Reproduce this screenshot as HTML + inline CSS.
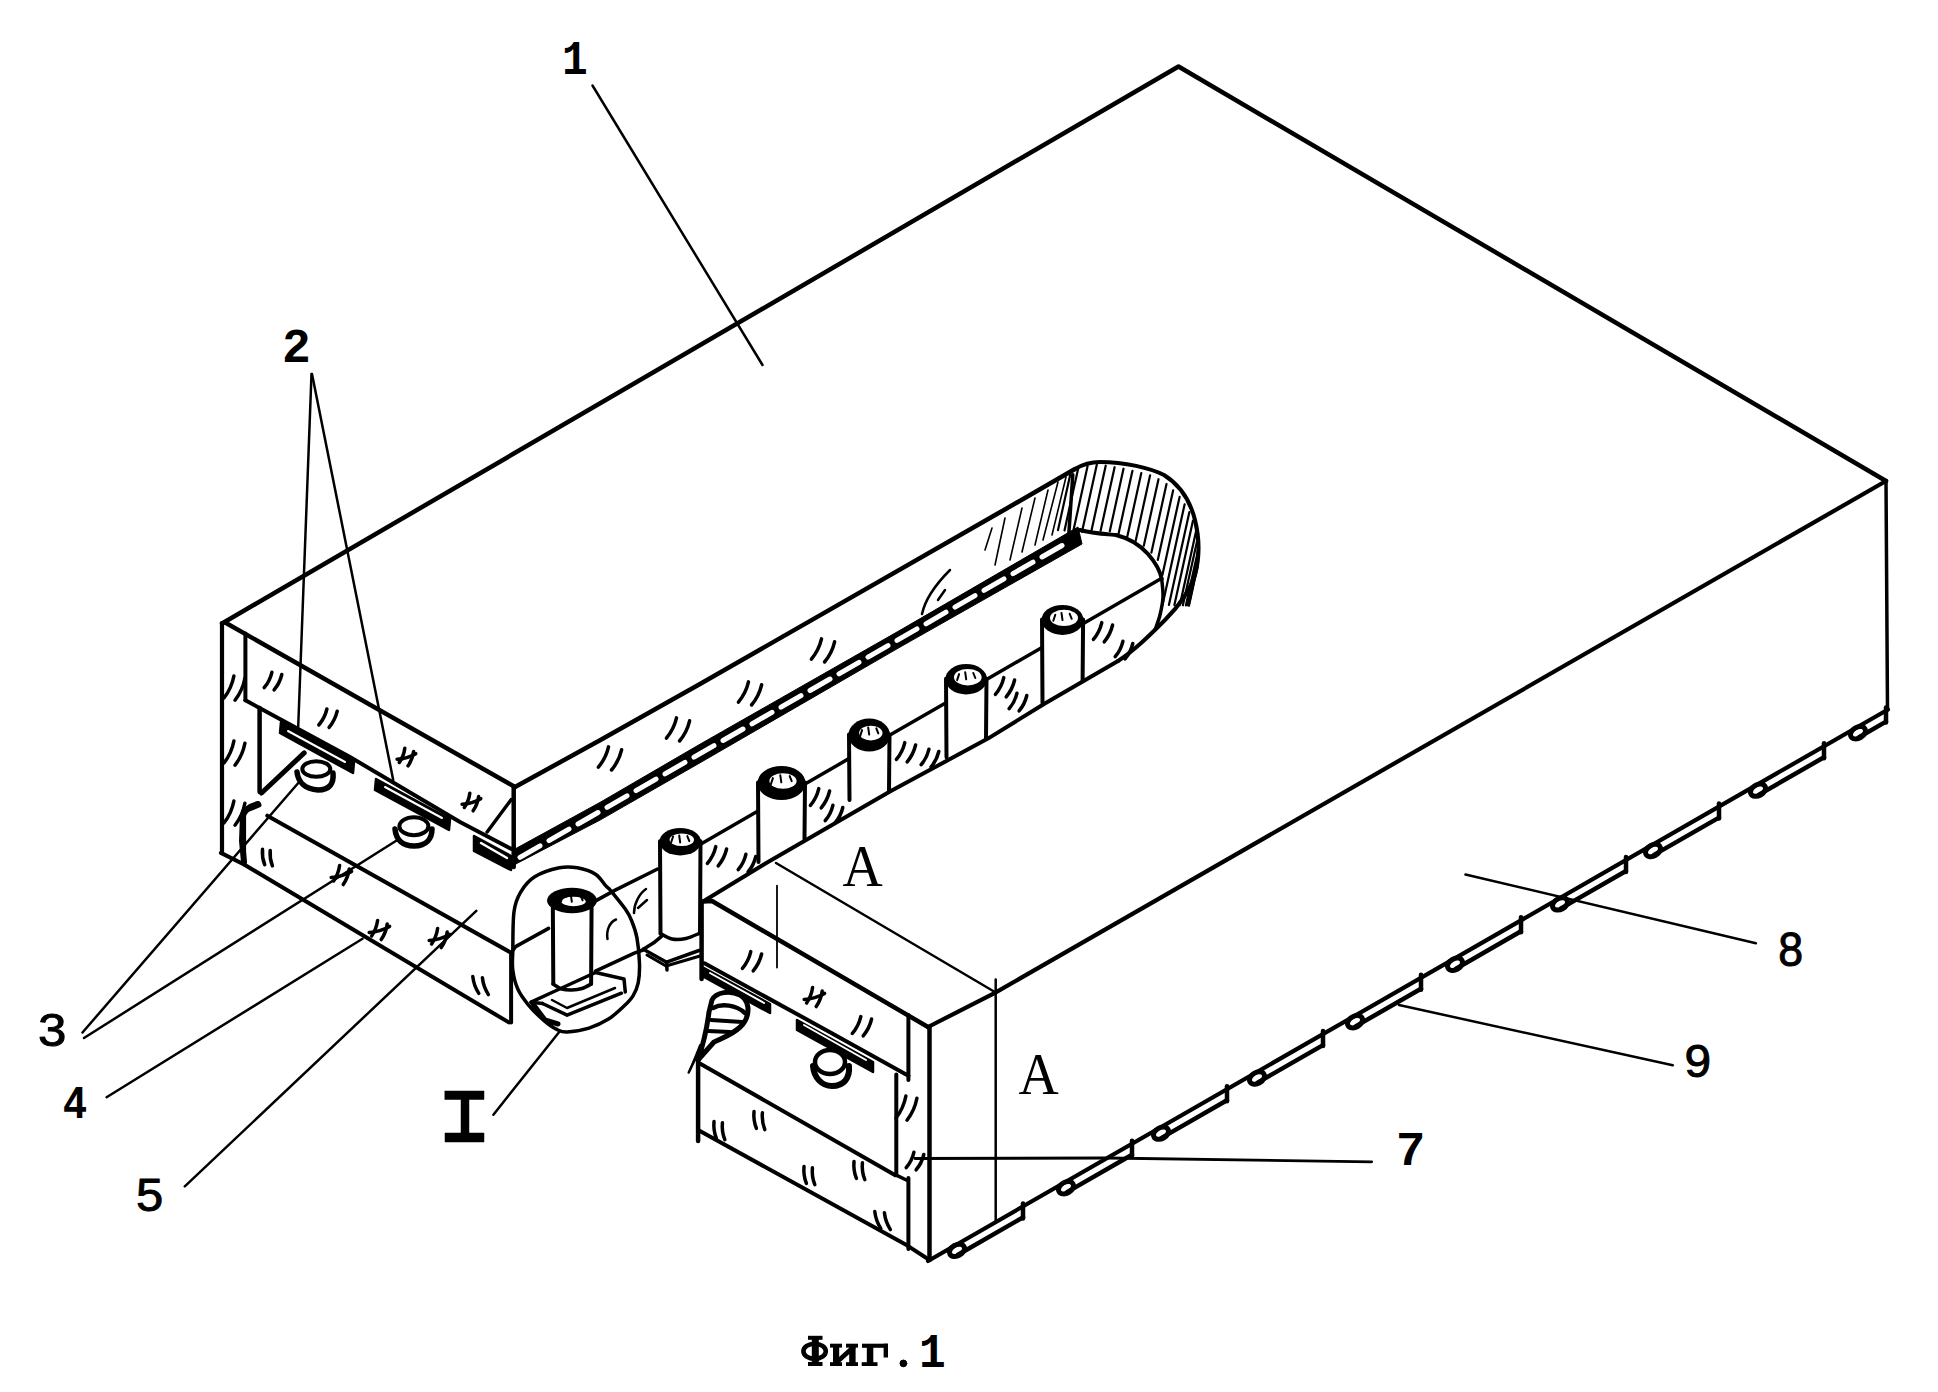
<!DOCTYPE html>
<html><head><meta charset="utf-8"><style>
html,body{margin:0;padding:0;background:#fff;}
svg{display:block;}
</style></head><body>
<svg width="1938" height="1392" viewBox="0 0 1938 1392">
<rect width="1938" height="1392" fill="#fff"/>
<g fill="none" stroke="#000" stroke-linecap="round" stroke-linejoin="round">
<text x="0" y="0" transform="matrix(0.4286 0 0 0.4848 562.00 74.00)" font-family="&quot;Liberation Mono&quot;, monospace" font-weight="bold" font-size="100" fill="#000" stroke="none">1</text>
<text x="0" y="0" transform="matrix(0.4792 0 0 0.4776 282.12 362.00)" font-family="&quot;Liberation Mono&quot;, monospace" font-weight="bold" font-size="100" fill="#000" stroke="none">2</text>
<text x="0" y="0" transform="matrix(0.5106 0 0 0.4577 37.96 1045.54)" font-family="&quot;Liberation Sans&quot;, sans-serif" font-weight="normal" font-size="100" fill="#000" stroke="#000" stroke-width="2">3</text>
<text x="0" y="0" transform="matrix(0.4074 0 0 0.4697 62.78 1118.00)" font-family="&quot;Liberation Mono&quot;, monospace" font-weight="bold" font-size="100" fill="#000" stroke="none">4</text>
<text x="0" y="0" transform="matrix(0.4894 0 0 0.4643 136.04 1210.54)" font-family="&quot;Liberation Sans&quot;, sans-serif" font-weight="normal" font-size="100" fill="#000" stroke="#000" stroke-width="2">5</text>
<text x="0" y="0" transform="matrix(0.4894 0 0 0.4559 1397.04 1165.46)" font-family="&quot;Liberation Sans&quot;, sans-serif" font-weight="bold" font-size="100" fill="#000" stroke="none">7</text>
<text x="0" y="0" transform="matrix(0.4468 0 0 0.4789 1778.21 965.52)" font-family="&quot;Liberation Sans&quot;, sans-serif" font-weight="normal" font-size="100" fill="#000" stroke="#000" stroke-width="2">8</text>
<text x="0" y="0" transform="matrix(0.4783 0 0 0.4648 1684.61 1076.54)" font-family="&quot;Liberation Sans&quot;, sans-serif" font-weight="normal" font-size="100" fill="#000" stroke="#000" stroke-width="2">9</text>
<text x="0" y="0" transform="matrix(0.5571 0 0 0.6000 842.44 885.60)" font-family="&quot;Liberation Serif&quot;, serif" font-weight="normal" font-size="100" fill="#000" stroke="none">A</text>
<text x="0" y="0" transform="matrix(0.5571 0 0 0.6000 1018.44 1093.60)" font-family="&quot;Liberation Serif&quot;, serif" font-weight="normal" font-size="100" fill="#000" stroke="none">A</text>
<rect x="811.8" y="1336" width="7.00" height="30.00" fill="#000" stroke="none"/>
<rect x="808" y="1335.8" width="14.50" height="4.00" fill="#000" stroke="none"/>
<rect x="808" y="1362" width="14.50" height="4.00" fill="#000" stroke="none"/>
<ellipse cx="814.6" cy="1351.3" rx="11.2" ry="7.6" stroke-width="4.6"/>
<rect x="833" y="1344" width="6.20" height="22.00" fill="#000" stroke="none"/>
<rect x="849.2" y="1344" width="6.40" height="22.00" fill="#000" stroke="none"/>
<path d="M834,1362.5 L838.8,1362.5 L855,1348 L850,1348 Z" stroke-width="1.5" fill="#000"/>
<rect x="830" y="1343.7" width="12.00" height="3.90" fill="#000" stroke="none"/>
<rect x="846" y="1343.7" width="12.00" height="3.90" fill="#000" stroke="none"/>
<rect x="830" y="1362.2" width="12.00" height="3.80" fill="#000" stroke="none"/>
<rect x="846" y="1362.2" width="12.00" height="3.80" fill="#000" stroke="none"/>
<rect x="866.8" y="1344" width="6.50" height="22.00" fill="#000" stroke="none"/>
<rect x="862" y="1343.7" width="26.00" height="4.10" fill="#000" stroke="none"/>
<rect x="883.6" y="1343.7" width="4.40" height="13.80" fill="#000" stroke="none"/>
<rect x="861.7" y="1362.2" width="15.80" height="3.80" fill="#000" stroke="none"/>
<ellipse cx="903.4" cy="1363.4" rx="3.4" ry="3.4" stroke-width="1" fill="#000"/>
<text x="0" y="0" transform="matrix(0.4449 0 0 0.4727 918.99 1367.00)" font-family="&quot;Liberation Mono&quot;, monospace" font-weight="bold" font-size="100" fill="#000" stroke="none">1</text>
<path d="M445,1091 H484 V1099.5 H469 V1133 H484 V1142 H445 V1133 H461 V1099.5 H445 Z" stroke-width="0.5" fill="#000"/>
<path d="M592.5,85.5 L762.5,365.0" stroke-width="2.5"/>
<path d="M311.5,374.0 L298.2,727.0" stroke-width="2.5"/>
<path d="M312.0,374.0 L393.2,780.0" stroke-width="2.5"/>
<path d="M82.5,1032.5 L300.0,781.0" stroke-width="2.5"/>
<path d="M84.0,1038.0 L397.4,840.0" stroke-width="2.5"/>
<path d="M106.6,1097.2 L362.5,938.8" stroke-width="2.5"/>
<path d="M184.8,1186.4 L476.3,910.9" stroke-width="2.5"/>
<path d="M493.4,1114.7 L560.0,1031.0" stroke-width="2.5"/>
<path d="M915.0,1158.5 L1107.0,1158.0 L1371.7,1161.8" stroke-width="2.8"/>
<path d="M1465.5,874.5 L1755.9,943.2" stroke-width="2.5"/>
<path d="M1399.0,1005.0 L1672.8,1065.3" stroke-width="2.5"/>
<path d="M222.0,623.5 L1178.5,66.5 L1886.0,481.0" stroke-width="4.5"/>
<path d="M1886.0,481.0 L1887.5,710.0" stroke-width="3.5"/>
<path d="M1886.0,481.0 L994.0,993.4 L928.0,1027.0" stroke-width="4.2"/>
<path d="M1888.0,709.5 L928.0,1261.0" stroke-width="4.2"/>
<path d="M929.5,1027.0 L929.5,1260.0" stroke-width="4.5"/>
<path d="M222.0,623.0 L222.0,853.0" stroke-width="4.2"/>
<path d="M226.0,623.0 L515.0,787.0" stroke-width="4.5"/>
<path d="M513.7,787.0 L513.7,867.0" stroke-width="4.5"/>
<path d="M245.4,633.5 L245.4,700.3" stroke-width="4"/>
<path d="M245.4,700.3 L350.0,757.0 L460.0,822.0 L511.5,849.0" stroke-width="4"/>
<path d="M487.1,832.0 L511.1,799.7" stroke-width="3.5"/>
<path d="M259.6,708.0 L259.6,792.0" stroke-width="4.5"/>
<path d="M261.5,793.0 L304.2,752.9" stroke-width="5"/>
<path d="M220.9,852.9 L244.1,864.5 L508.8,1022.4" stroke-width="4"/>
<path d="M244.1,811.0 L244.1,864.5" stroke-width="4"/>
<path d="M267.3,815.7 L511.1,952.7" stroke-width="4"/>
<path d="M511.1,952.7 L511.1,1022.4" stroke-width="4"/>
<path d="M258,804 C250,806 245,810 243,815 L242,841 L244,862" stroke-width="6"/>
<path d="M244.0,811.0 L259.0,805.0" stroke-width="5"/>
<path d="M515.0,787.0 L600.0,740.3 L700.0,684.0 L1000.0,512.3 L1075.0,469.0" stroke-width="4.5"/>
<path d="M1075,469 C1085,463 1092,462 1100,462 C1125,462 1150,468 1164,475 C1180,485 1190,500 1195,520 C1200,540 1199,560 1195,575 C1190,590 1180,605 1165,620 C1150,635 1135,650 1118,661" stroke-width="4"/>
<path d="M1118.0,661.0 L1044.0,704.0 L987.9,738.6 L890.4,791.2 L766.7,862.7 L703.0,901.5" stroke-width="4"/>
<path d="M515,849 L600,802.4 L700,744.2 L900,630.3 L1078,527 L1082,544 L900,647.1 L700,762.8 L600,820.1 L512,866 Z" stroke-width="1" fill="#000"/>
<path d="M520.0,857.3 L540.0,845.8 M549.0,840.6 L569.0,829.1 M578.0,824.0 L598.0,812.5 M607.0,807.3 L627.0,795.8 M636.0,790.6 L656.0,779.1 M665.0,773.9 L685.0,762.4 M694.0,757.2 L714.0,745.7 M723.0,740.5 L743.0,729.0 M752.0,723.9 L772.0,712.3 M781.0,707.2 L801.0,695.7 M810.0,690.5 L830.0,679.0 M839.0,673.8 L859.0,662.3 M868.0,657.1 L888.0,645.6 M897.0,640.4 L917.0,628.9 M926.0,623.8 L946.0,612.2 M955.0,607.1 L975.0,595.6 M984.0,590.4 L1004.0,578.9 M1013.0,573.7 L1033.0,562.2 M1042.0,557.0 L1062.0,545.5 " stroke="#fff" stroke-width="5" stroke-linecap="round"/>
<path d="M1080,530 C1090,533 1105,534 1116,535 C1128,538 1140,545 1148,554 C1155,562 1160,570 1161.7,579" stroke-width="4"/>
<path d="M1161.7,578.3 L1083.4,623.6" stroke-width="3.5"/>
<path d="M1042.0,647.5 L986.5,679.4" stroke-width="3.5"/>
<path d="M946.0,702.8 L889.5,735.3" stroke-width="3.5"/>
<path d="M849.0,758.6 L805.0,784.0" stroke-width="3.5"/>
<path d="M758.0,811.1 L700.5,844.2" stroke-width="3.5"/>
<path d="M657.6,869.0 L614.7,890.4 L596.5,900.4" stroke-width="3.5"/>
<path d="M548.6,928.4 L515.6,946.6 L511.1,952.7" stroke-width="3.5"/>
<path d="M1072.8,474.8 L1068.9,532.9" stroke-width="3.5"/>
<path d="M1042.0,619.4 L1042.5,703.0" stroke-width="4.0"/>
<path d="M1083.1,619.4 L1082.6,681.3" stroke-width="4.0"/>
<ellipse cx="1062.5" cy="619.9" rx="21.0" ry="15.0" fill="#000" stroke="none"/>
<ellipse cx="1064.0" cy="617.9" rx="14.0" ry="8.1" fill="#fff" stroke="none"/>
<path d="M1053.3,620.8 l2,-6 M1061.5,613.1 l1,7 M1069.7,613.8 l2,5" stroke-width="2"/>
<path d="M946.0,678.7 L946.5,757.2" stroke-width="4.0"/>
<path d="M986.5,678.7 L986.0,738.6" stroke-width="4.0"/>
<ellipse cx="966.2" cy="679.2" rx="20.8" ry="15.3" fill="#000" stroke="none"/>
<ellipse cx="967.8" cy="677.2" rx="13.8" ry="8.3" fill="#fff" stroke="none"/>
<path d="M957.1,680.1 l2,-6 M965.2,672.3 l1,7 M973.3,673.0 l2,5" stroke-width="2"/>
<path d="M849.0,734.6 L849.5,800.0" stroke-width="4.0"/>
<path d="M889.5,734.6 L889.0,791.2" stroke-width="4.0"/>
<ellipse cx="869.2" cy="735.1" rx="20.8" ry="16.5" fill="#000" stroke="none"/>
<ellipse cx="870.8" cy="733.1" rx="11.7" ry="7.4" fill="#fff" stroke="none"/>
<path d="M860.1,736.1 l2,-6 M868.2,727.6 l1,7 M876.3,728.4 l2,5" stroke-width="2"/>
<path d="M758.0,782.5 L758.5,862.0" stroke-width="4.0"/>
<path d="M805.0,782.5 L804.5,839.0" stroke-width="4.0"/>
<ellipse cx="781.5" cy="783.0" rx="24.0" ry="17.0" fill="#000" stroke="none"/>
<ellipse cx="783.0" cy="781.0" rx="13.6" ry="7.7" fill="#fff" stroke="none"/>
<path d="M770.9,784.1 l2,-6 M780.3,775.3 l1,7 M789.7,776.1 l2,5" stroke-width="2"/>
<path d="M660.0,841.2 L660.5,933.7" stroke-width="4.0"/>
<path d="M700.5,841.2 L700.0,933.0" stroke-width="4.0"/>
<ellipse cx="680.2" cy="841.7" rx="20.8" ry="13.7" fill="#000" stroke="none"/>
<ellipse cx="681.8" cy="839.7" rx="12.2" ry="6.3" fill="#fff" stroke="none"/>
<path d="M671.1,842.5 l2,-6 M679.2,835.5 l1,7 M687.3,836.1 l2,5" stroke-width="2"/>
<path d="M552.8,900.0 L553.3,984.0" stroke-width="4.0"/>
<path d="M591.6,900.0 L591.1,984.0" stroke-width="4.0"/>
<ellipse cx="572.0" cy="900.5" rx="25.0" ry="12.7" fill="#000" stroke="none"/>
<ellipse cx="573.5" cy="901.5" rx="12.2" ry="4.7" fill="#fff" stroke="none"/>
<path d="M561.0,901.2 l2,-6 M570.8,894.7 l1,7 M580.6,895.3 l2,5" stroke-width="2"/>
<path d="M958.0,1254.8 L1023.0,1217.4" stroke-width="4.5"/>
<path d="M1023.0,1203.4 L1023.0,1218.4" stroke-width="4.5"/>
<ellipse cx="957" cy="1250.3401041666666" rx="8" ry="5.5" stroke-width="5" transform="rotate(-29 957 1250.3401041666666)"/>
<path d="M1067.0,1192.1 L1132.0,1154.8" stroke-width="4.5"/>
<path d="M1132.0,1140.8 L1132.0,1155.8" stroke-width="4.5"/>
<ellipse cx="1066" cy="1187.721875" rx="8" ry="5.5" stroke-width="5" transform="rotate(-29 1066 1187.721875)"/>
<path d="M1162.0,1137.6 L1227.0,1100.2" stroke-width="4.5"/>
<path d="M1227.0,1086.2 L1227.0,1101.2" stroke-width="4.5"/>
<ellipse cx="1161" cy="1133.1463541666667" rx="8" ry="5.5" stroke-width="5" transform="rotate(-29 1161 1133.1463541666667)"/>
<path d="M1258.0,1082.4 L1323.0,1045.1" stroke-width="4.5"/>
<path d="M1323.0,1031.1 L1323.0,1046.1" stroke-width="4.5"/>
<ellipse cx="1257" cy="1077.9963541666666" rx="8" ry="5.5" stroke-width="5" transform="rotate(-29 1257 1077.9963541666666)"/>
<path d="M1356.0,1026.1 L1421.0,988.8" stroke-width="4.5"/>
<path d="M1421.0,974.8 L1421.0,989.8" stroke-width="4.5"/>
<ellipse cx="1355" cy="1021.6973958333333" rx="8" ry="5.5" stroke-width="5" transform="rotate(-29 1355 1021.6973958333333)"/>
<path d="M1456.0,968.7 L1521.0,931.3" stroke-width="4.5"/>
<path d="M1521.0,917.3 L1521.0,932.3" stroke-width="4.5"/>
<ellipse cx="1455" cy="964.2494791666667" rx="8" ry="5.5" stroke-width="5" transform="rotate(-29 1455 964.2494791666667)"/>
<path d="M1561.0,908.4 L1626.0,871.0" stroke-width="4.5"/>
<path d="M1626.0,857.0 L1626.0,872.0" stroke-width="4.5"/>
<ellipse cx="1560" cy="903.9291666666667" rx="8" ry="5.5" stroke-width="5" transform="rotate(-29 1560 903.9291666666667)"/>
<path d="M1654.0,854.9 L1719.0,817.6" stroke-width="4.5"/>
<path d="M1719.0,803.6 L1719.0,818.6" stroke-width="4.5"/>
<ellipse cx="1653" cy="850.5026041666666" rx="8" ry="5.5" stroke-width="5" transform="rotate(-29 1653 850.5026041666666)"/>
<path d="M1759.0,794.6 L1824.0,757.3" stroke-width="4.5"/>
<path d="M1824.0,743.3 L1824.0,758.3" stroke-width="4.5"/>
<ellipse cx="1758" cy="790.1822916666666" rx="8" ry="5.5" stroke-width="5" transform="rotate(-29 1758 790.1822916666666)"/>
<path d="M1859.0,737.2 L1886.0,721.6" stroke-width="4.5"/>
<path d="M1886.0,707.6 L1886.0,722.6" stroke-width="4.5"/>
<ellipse cx="1858" cy="732.734375" rx="8" ry="5.5" stroke-width="5" transform="rotate(-29 1858 732.734375)"/>
<path d="M512.8,950.5 C513.0,940.8 512.7,921.4 514.0,911.7 C515.3,902.0 517.0,898.1 520.5,892.3 C524.0,886.5 528.2,880.9 534.7,876.8 C541.2,872.7 552.2,869.3 559.3,867.8 C566.4,866.3 571.4,866.7 577.4,867.8 C583.4,868.9 590.8,871.2 595.5,874.2 C600.2,877.2 603.3,883.1 605.9,885.9 C608.5,888.7 607.8,887.1 611.0,891.0 C614.2,894.9 621.8,904.1 625.3,909.1 C628.8,914.1 629.8,916.0 631.7,920.8 C633.6,925.5 635.6,930.5 636.9,937.6 C638.2,944.7 639.3,956.0 639.5,963.5 C639.7,971.0 639.3,977.4 638.2,982.8 C637.1,988.2 635.4,991.9 633.0,995.8 C630.6,999.7 628.1,1002.2 624.0,1006.1 C619.9,1010.0 614.3,1015.4 608.5,1019.1 C602.7,1022.8 595.9,1025.9 589.0,1028.1 C582.1,1030.2 572.5,1031.8 567.1,1032.0 C561.7,1032.2 560.6,1031.3 556.7,1029.4 C552.8,1027.5 548.5,1024.5 543.8,1020.4 C539.1,1016.3 532.6,1010.0 528.3,1004.8 C524.0,999.6 520.5,995.1 517.9,989.3 C515.3,983.5 513.6,976.4 512.8,969.9 C511.9,963.4 512.6,960.2 512.8,950.5 Z" stroke-width="3.5"/>
<path d="M553.0,984.0 C554.5,984.8 558.8,988.0 562.0,989.0 C565.2,990.0 568.7,990.1 572.0,990.0 C575.3,989.9 578.8,989.5 582.0,988.5 C585.2,987.5 589.7,984.8 591.2,984.0" stroke-width="3.5"/>
<path d="M531.0,1002.2 L553.0,992.0 L595.5,972.5 L624.0,979.0 L625.3,992.0" stroke-width="3.5"/>
<path d="M542.5,1003.5 L567.1,1015.2 L621.4,993.2" stroke-width="3.5"/>
<path d="M531.0,1002.2 L542.5,1003.5" stroke-width="3.5"/>
<path d="M552.0,1000.0 L567.0,1008.0 L615.0,988.0" stroke-width="2.5"/>
<path d="M533.0,1004.0 L545.0,1020.0 L558.0,1024.0" stroke-width="5"/>
<path d="M595.5,971.2 L634.3,953.1 L643.0,950.0" stroke-width="3.5"/>
<path d="M643.4,949.2 L666.6,962.2 L699.0,950.5" stroke-width="3.5"/>
<path d="M643.4,949.2 L653.7,942.8 L661.5,936.3" stroke-width="3.5"/>
<path d="M647.0,955.0 L666.0,966.0 L700.0,956.0" stroke-width="3"/>
<path d="M666.6,962.2 L667.0,970.0" stroke-width="3.5"/>
<path d="M660.5,933.5 C662.4,934.4 667.8,938.2 672.0,939.0 C676.2,939.8 681.3,939.5 686.0,938.5 C690.7,937.5 697.9,933.9 700.3,933.0" stroke-width="3.5"/>
<path d="M607.5,939 C606,930 610,922 616,919.5" stroke-width="2.5"/>
<path d="M634,913 C634,903 640,893 646,889 M638,908 L647,900" stroke-width="2.5"/>
<path d="M703.0,901.5 L712.0,901.0 L928.0,1027.0" stroke-width="4.5"/>
<path d="M701.6,901.5 L701.6,979.0" stroke-width="4.5"/>
<path d="M704.5,963.3 L830.0,1032.2 L908.4,1075.7" stroke-width="4"/>
<path d="M908.4,1015.0 L908.4,1080.0" stroke-width="4"/>
<path d="M908.4,1178.0 L908.4,1249.0" stroke-width="4"/>
<path d="M896.3,1074.6 L896.3,1175.2" stroke-width="4"/>
<path d="M896.3,1175.2 L908.4,1181.0" stroke-width="3.5"/>
<path d="M698.1,1062.5 L895.3,1175.2" stroke-width="4"/>
<path d="M698.1,1130.0 L907.4,1245.6 L929.5,1260.0" stroke-width="4"/>
<path d="M698.1,1059.5 L698.1,1141.0" stroke-width="4.5"/>
<path d="M688.7,1072.5 L705.9,1036.5" stroke-width="2.5"/>
<path d="M704,968 L770,1004 L770,1013 L704,977 Z" stroke-width="2.5" fill="#000"/>
<path d="M710,973 L764,1003" stroke="#fff" stroke-width="2"/>
<path d="M797,1020 L873,1062 L873,1072 L797,1030 Z" stroke-width="2.5" fill="#000"/>
<path d="M804,1025 L866,1060" stroke="#fff" stroke-width="2"/>
<ellipse cx="830" cy="1062" rx="15" ry="12" stroke-width="4.5" fill="#fff"/>
<path d="M813,1066 C814,1078 822,1086 832,1086 C844,1086 850,1078 849,1066" stroke-width="6"/>
<path d="M712,1000 C716,992 730,990 740,995 C749,1000 750,1012 745,1021 C740,1030 728,1036 714,1042 L698,1060 C703,1045 707,1028 709,1012 Z" stroke-width="5" fill="#fff"/>
<path d="M713,1008 C722,1003 736,1005 745,1013" stroke-width="4.5"/>
<path d="M711,1020 L742,1022 M708,1031 L730,1032" stroke-width="4"/>
<path d="M700.0,1045.0 L690.0,1070.0" stroke-width="2"/>
<path d="M776.0,863.0 L994.0,991.5" stroke-width="2.5"/>
<path d="M995.7,979.6 L995.7,1222.0" stroke-width="2.5"/>
<path d="M777,885.7 L777,967.6" stroke-width="1.8"/>
<path d="M281,722 L354,762 L353,773 L280,733 Z" stroke-width="2.5" fill="#000"/>
<path d="M288,731 L345,762" stroke="#fff" stroke-width="2"/>
<path d="M376,779 L450,819 L449,830 L375,790 Z" stroke-width="2.5" fill="#000"/>
<path d="M385,787 L442,818" stroke="#fff" stroke-width="2"/>
<path d="M474,836 L511,856 L511,870 L474,851 Z" stroke-width="2.5" fill="#000"/>
<path d="M481,843 L507,858" stroke="#fff" stroke-width="2.5"/>
<ellipse cx="316.3" cy="769" rx="14" ry="7.7" stroke-width="4" fill="#fff"/>
<path d="M297,772 C298,782 305,789 318,790 C330,790 334,783 333,773" stroke-width="5.5"/>
<ellipse cx="413.9" cy="826.2" rx="14.5" ry="9" stroke-width="4" fill="#fff"/>
<path d="M395,829 C396,840 403,846 414,846 C427,846 432,838 432,829" stroke-width="5.5"/>
<path d="M224.0,698.0 Q231.6,688.2 233.9,676.0" stroke-width="3.5"/>
<path d="M235.0,700.2 Q242.6,690.4 244.9,678.2" stroke-width="3.5"/>
<path d="M224.0,763.0 Q231.6,753.2 233.9,741.0" stroke-width="3.5"/>
<path d="M235.0,765.2 Q242.6,755.4 244.9,743.2" stroke-width="3.5"/>
<path d="M224.0,823.0 Q231.6,813.2 233.9,801.0" stroke-width="3.5"/>
<path d="M235.0,825.2 Q242.6,815.4 244.9,803.2" stroke-width="3.5"/>
<path d="M264.2,687.7 Q269.9,680.9 271.9,672.3" stroke-width="3.5"/>
<path d="M274.1,689.9 Q279.8,683.1 281.8,674.5" stroke-width="3.5"/>
<path d="M318.8,725.0 Q324.8,718.0 326.9,709.0" stroke-width="3.5"/>
<path d="M329.1,727.4 Q335.1,720.3 337.2,711.2" stroke-width="3.5"/>
<path d="M399.3,762.5 Q403.8,756.0 404.8,748.2" stroke-width="3.5"/>
<path d="M408.1,765.8 Q412.6,759.3 413.6,751.5" stroke-width="3.5"/>
<path d="M397.1,759.2 Q407.1,758.7 415.8,753.7" stroke-width="3.5"/>
<path d="M464.3,807.5 Q468.8,801.0 469.8,793.2" stroke-width="3.5"/>
<path d="M473.1,810.8 Q477.6,804.3 478.6,796.5" stroke-width="3.5"/>
<path d="M462.1,804.2 Q472.1,803.7 480.8,798.7" stroke-width="3.5"/>
<path d="M262.5,849.3 Q261.8,857.3 264.7,864.7" stroke-width="3.5"/>
<path d="M270.2,850.4 Q269.5,858.4 272.4,865.8" stroke-width="3.5"/>
<path d="M333.6,881.0 Q338.5,873.9 339.6,865.4" stroke-width="3.5"/>
<path d="M343.2,884.6 Q348.1,877.5 349.2,869.0" stroke-width="3.5"/>
<path d="M331.2,877.4 Q342.1,876.8 351.6,871.4" stroke-width="3.5"/>
<path d="M371.6,936.0 Q376.5,928.9 377.6,920.4" stroke-width="3.5"/>
<path d="M381.2,939.6 Q386.1,932.5 387.2,924.0" stroke-width="3.5"/>
<path d="M369.2,932.4 Q380.1,931.8 389.6,926.4" stroke-width="3.5"/>
<path d="M431.6,944.0 Q436.5,936.9 437.6,928.4" stroke-width="3.5"/>
<path d="M441.2,947.6 Q446.1,940.5 447.2,932.0" stroke-width="3.5"/>
<path d="M429.2,940.4 Q440.1,939.8 449.6,934.4" stroke-width="3.5"/>
<path d="M472.8,976.6 Q473.8,985.7 478.8,993.4" stroke-width="3.5"/>
<path d="M482.4,977.8 Q483.4,986.9 488.4,994.6" stroke-width="3.5"/>
<path d="M598.4,767.1 Q605.9,758.2 608.5,746.9" stroke-width="3.5"/>
<path d="M611.5,770.0 Q619.0,761.1 621.6,749.8" stroke-width="3.5"/>
<path d="M666.4,738.1 Q673.9,729.2 676.5,717.9" stroke-width="3.5"/>
<path d="M679.5,741.0 Q687.0,732.1 689.6,720.8" stroke-width="3.5"/>
<path d="M738.4,702.1 Q745.9,693.2 748.5,681.9" stroke-width="3.5"/>
<path d="M751.5,705.0 Q759.0,696.1 761.6,684.8" stroke-width="3.5"/>
<path d="M811.4,659.1 Q818.9,650.2 821.5,638.9" stroke-width="3.5"/>
<path d="M824.5,662.0 Q832.0,653.1 834.6,641.8" stroke-width="3.5"/>
<path d="M707.4,863.4 Q713.6,856.0 715.8,846.6" stroke-width="3.5"/>
<path d="M718.2,865.8 Q724.4,858.4 726.6,849.0" stroke-width="3.5"/>
<path d="M738.2,869.7 Q743.9,862.9 745.9,854.3" stroke-width="3.5"/>
<path d="M748.1,871.9 Q753.8,865.1 755.8,856.5" stroke-width="3.5"/>
<path d="M810.4,805.4 Q816.6,798.0 818.8,788.6" stroke-width="3.5"/>
<path d="M821.2,807.8 Q827.4,800.4 829.6,791.0" stroke-width="3.5"/>
<path d="M825.2,820.7 Q830.9,813.9 832.9,805.3" stroke-width="3.5"/>
<path d="M835.1,822.9 Q840.8,816.1 842.8,807.5" stroke-width="3.5"/>
<path d="M896.4,759.4 Q902.6,752.0 904.8,742.6" stroke-width="3.5"/>
<path d="M907.2,761.8 Q913.4,754.4 915.6,745.0" stroke-width="3.5"/>
<path d="M921.2,764.7 Q926.9,757.9 928.9,749.3" stroke-width="3.5"/>
<path d="M931.1,766.9 Q936.8,760.1 938.8,751.5" stroke-width="3.5"/>
<path d="M995.4,694.4 Q1001.6,687.0 1003.8,677.6" stroke-width="3.5"/>
<path d="M1006.2,696.8 Q1012.4,689.4 1014.6,680.0" stroke-width="3.5"/>
<path d="M1009.2,708.7 Q1014.9,701.9 1016.9,693.3" stroke-width="3.5"/>
<path d="M1019.1,710.9 Q1024.8,704.1 1026.8,695.5" stroke-width="3.5"/>
<path d="M1093.4,639.4 Q1099.6,632.0 1101.8,622.6" stroke-width="3.5"/>
<path d="M1104.2,641.8 Q1110.4,634.4 1112.6,625.0" stroke-width="3.5"/>
<path d="M1115.2,656.7 Q1120.9,649.9 1122.9,641.3" stroke-width="3.5"/>
<path d="M1125.1,658.9 Q1130.8,652.1 1132.8,643.5" stroke-width="3.5"/>
<path d="M742.4,968.4 Q748.6,961.0 750.8,951.6" stroke-width="3.5"/>
<path d="M753.2,970.8 Q759.4,963.4 761.6,954.0" stroke-width="3.5"/>
<path d="M806.6,1003.0 Q811.5,995.9 812.6,987.4" stroke-width="3.5"/>
<path d="M816.2,1006.6 Q821.1,999.5 822.2,991.0" stroke-width="3.5"/>
<path d="M804.2,999.4 Q815.1,998.8 824.6,993.4" stroke-width="3.5"/>
<path d="M852.4,1033.4 Q858.6,1026.0 860.8,1016.6" stroke-width="3.5"/>
<path d="M863.2,1035.8 Q869.4,1028.4 871.6,1019.0" stroke-width="3.5"/>
<path d="M714.0,1121.6 Q713.2,1130.3 716.4,1138.4" stroke-width="3.5"/>
<path d="M722.4,1122.8 Q721.6,1131.5 724.8,1139.6" stroke-width="3.5"/>
<path d="M754.0,1111.6 Q753.2,1120.3 756.4,1128.4" stroke-width="3.5"/>
<path d="M762.4,1112.8 Q761.6,1121.5 764.8,1129.6" stroke-width="3.5"/>
<path d="M804.0,1166.6 Q803.2,1175.3 806.4,1183.4" stroke-width="3.5"/>
<path d="M812.4,1167.8 Q811.6,1176.5 814.8,1184.6" stroke-width="3.5"/>
<path d="M854.0,1161.6 Q853.2,1170.3 856.4,1178.4" stroke-width="3.5"/>
<path d="M862.4,1162.8 Q861.6,1171.5 864.8,1179.6" stroke-width="3.5"/>
<path d="M874.8,1211.6 Q875.8,1220.7 880.8,1228.4" stroke-width="3.5"/>
<path d="M884.4,1212.8 Q885.4,1221.9 890.4,1229.6" stroke-width="3.5"/>
<path d="M896.0,1118.0 Q903.6,1108.2 905.9,1096.0" stroke-width="3.5"/>
<path d="M907.0,1120.2 Q914.6,1110.4 916.9,1098.2" stroke-width="3.5"/>
<path d="M906.2,1167.7 Q911.9,1160.9 913.9,1152.3" stroke-width="3.5"/>
<path d="M916.1,1169.9 Q921.8,1163.1 923.8,1154.5" stroke-width="3.5"/>
<path d="M922,614 C925,600 935,585 950,570 M938,600 L945,590" stroke-width="2.5"/>
<path d="M1070.7,472.6 L1058.0,530.1" stroke-width="2.2"/>
<path d="M1078.4,467.4 L1064.5,530.4" stroke-width="2.2"/>
<path d="M1087.6,466.1 L1073.4,530.6" stroke-width="2.2"/>
<path d="M1096.8,464.8 L1082.0,531.8" stroke-width="2.2"/>
<path d="M1105.7,465.7 L1091.0,532.7" stroke-width="2.2"/>
<path d="M1114.6,467.2 L1100.6,530.7" stroke-width="2.2"/>
<path d="M1123.5,468.7 L1109.8,531.2" stroke-width="2.2"/>
<path d="M1132.4,470.9 L1118.6,533.4" stroke-width="2.2"/>
<path d="M1141.3,473.1 L1127.3,536.6" stroke-width="2.2"/>
<path d="M1150.1,475.3 L1135.7,540.8" stroke-width="2.2"/>
<path d="M1158.5,479.2 L1143.8,545.7" stroke-width="2.2"/>
<path d="M1166.5,484.1 L1151.4,552.6" stroke-width="2.2"/>
<path d="M1173.1,490.4 L1157.8,559.9" stroke-width="2.2"/>
<path d="M1179.6,496.9 L1162.4,574.9" stroke-width="2.2"/>
<path d="M1184.6,504.4 L1162.5,604.9" stroke-width="2.2"/>
<path d="M1189.4,512.0 L1168.9,605.0" stroke-width="2.2"/>
<path d="M1193.0,520.6 L1174.4,605.1" stroke-width="2.2"/>
<path d="M1196.5,529.2 L1179.8,605.2" stroke-width="2.2"/>
<path d="M1197.7,538.3 L1182.9,605.3" stroke-width="2.2"/>
<path d="M1198.7,547.4 L1185.9,605.4" stroke-width="2.2"/>
<path d="M1198.3,556.7 L1187.6,605.2" stroke-width="2.2"/>
<path d="M1197.7,566.0 L1189.0,605.5" stroke-width="2.2"/>
<path d="M1195.4,574.9 L1188.7,605.4" stroke-width="2.2"/>
<path d="M1193.0,583.7 L1188.3,605.2" stroke-width="2.2"/>
<path d="M1161.7,579.0 C1161.9,582.0 1163.3,591.0 1163.0,597.0 C1162.7,603.0 1161.3,609.5 1160.0,615.0 C1158.7,620.5 1155.8,627.5 1155.0,630.0" stroke-width="3.5"/>
<path d="M1066,477 L1052,535" stroke-width="1.6"/>
<path d="M1058,482 L1043,540" stroke-width="1.6"/>
<path d="M1048,490 L1035,545" stroke-width="1.6"/>
<path d="M1035,498 L1022,552" stroke-width="1.6"/>
<path d="M1022,508 L1010,560" stroke-width="1.6"/>
<path d="M1005,518 L995,565" stroke-width="1.6"/>
<path d="M992,528 L985,550" stroke-width="1.6"/>
</g>
</svg>
</body></html>
